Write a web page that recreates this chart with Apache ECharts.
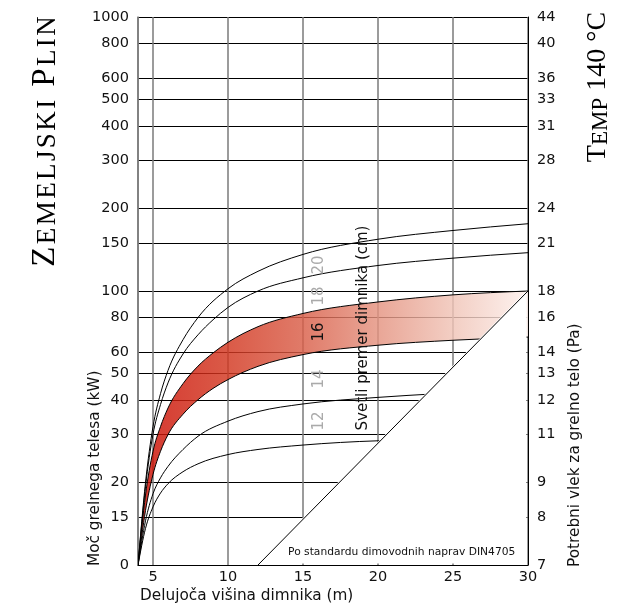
<!DOCTYPE html>
<html>
<head>
<meta charset="utf-8">
<script src="https://cdn.jsdelivr.net/npm/echarts@6/dist/echarts.min.js"></script>
<style>
html,body{margin:0;padding:0;background:#fff;}
#chart{width:626px;height:607px;}
</style>
</head>
<body>
<div id="chart"></div>
<script>
// ---- axis ticks ----
const xLabelValues = [5, 10, 15, 20, 25, 30];
const xGridValues = [4, 5, 10, 15, 20, 25, 30];
const yTickValues = [10, 15, 20, 30, 40, 50, 60, 80, 100, 150, 200, 300, 400, 500, 600, 800, 1000];
const leftTickLabels = ['0', '15', '20', '30', '40', '50', '60', '80', '100', '150', '200', '300', '400', '500', '600', '800', '1000'];
const rightTickLabels = ['7', '8', '9', '11', '12', '13', '14', '16', '18', '21', '24', '28', '31', '33', '36', '40', '44'];

// ---- curves (x = chimney height m, y = power kW) ----
const curve20X = [4, 4.5, 5, 5.5, 6, 7, 8, 10, 12, 15, 20, 25, 30];
const curve20Y = [10, 20, 32, 42.2, 51.3, 66.4, 80, 101.9, 118, 136, 154.5, 166.3, 176];

const curve18X = [4, 4.5, 5, 5.5, 6, 7, 8, 9, 10, 12, 15, 20, 25, 30];
const curve18Y = [10, 19.3, 30, 38.5, 46.2, 58.9, 69.2, 78.5, 87.1, 100, 111.7, 123.9, 131.8, 138];

const band16X = [4, 4.5, 5, 5.5, 6, 7, 8, 9, 10, 12, 15, 20, 25, 30];
const band16High = [10, 18, 26, 32, 37.4, 45.9, 53.2, 59.4, 65, 74.1, 82.8, 91.2, 96.8, 100];
const band16Low = [10, 15.8, 21.4, 26, 29.9, 35.5, 40.1, 44.1, 47.5, 53.1, 58.6, 63.4, 66.1, 67.9];

const curve14X = [4, 4.5, 5, 5.5, 6, 7, 8, 10, 12, 15, 20, 24];
const curve14Y = [10, 14.5, 18.2, 20.8, 22.9, 26.4, 29.5, 33.5, 36.3, 38.7, 40.9, 42.2];

const curve12X = [4, 4.5, 5, 5.5, 6, 7, 8, 10, 12, 15, 20, 21];
const curve12Y = [10, 13.6, 16.3, 18.3, 19.8, 21.9, 23.4, 25.3, 26.4, 27.4, 28.4, 28.5];

// limit line (DIN4705)
const limitX = [12, 30];
const limitY = [10, 100];

// curve labels (diameters, cm)
const diameterLabels = ['12', '14', '16', '18', '20'];

const pairs = (xs, ys) => xs.map((x, i) => [x, ys[i]]);
const tickIndex = v => yTickValues.findIndex(t => Math.abs(t - v) < t * 1e-6);

const FONT = '"DejaVu Sans", Verdana, sans-serif';
const SERIF = '"Liberation Serif", "Times New Roman", serif';
const RED = '#c3272d';

function smallCapsRich(str) {
  let out = '';
  for (const ch of str) {
    const isLower = ch !== ch.toUpperCase();
    out += '{' + (isLower ? 's' : 'b') + '|' + ch.toUpperCase() + '}';
  }
  return out;
}

// monotone cubic path segments through pixel points (points from api.coord)
function splineSegments(pts) {
  const n = pts.length;
  const s = [];
  for (let i = 0; i < n - 1; i++) s.push((pts[i + 1][1] - pts[i][1]) / (pts[i + 1][0] - pts[i][0]));
  const m = new Array(n);
  for (let i = 1; i < n - 1; i++) {
    const h0 = pts[i][0] - pts[i - 1][0], h1 = pts[i + 1][0] - pts[i][0];
    const p = (s[i - 1] * h1 + s[i] * h0) / (h0 + h1);
    m[i] = (Math.sign(s[i - 1]) + Math.sign(s[i])) * Math.min(Math.abs(s[i - 1]), Math.abs(s[i]), 0.5 * Math.abs(p)) || 0;
  }
  m[0] = (3 * s[0] - m[1]) / 2;
  m[n - 1] = (3 * s[n - 2] - m[n - 2]) / 2;
  let d = '';
  for (let i = 0; i < n - 1; i++) {
    const [x0, y0] = pts[i], [x1, y1] = pts[i + 1];
    const dx = (x1 - x0) / 3;
    d += ' C' + (x0 + dx) + ' ' + (y0 + dx * m[i]) + ' ' + (x1 - dx) + ' ' + (y1 - dx * m[i + 1]) + ' ' + x1 + ' ' + y1;
  }
  return d;
}

// a black curve drawn through the data with the same spline as the band edges
function curveSeries(name, xs, ys) {
  return {
    type: 'custom', name: name, z: 3, silent: true, clip: true,
    data: pairs(xs, ys),
    renderItem: (params, api) => {
      if (params.dataIndex !== 0) return null;
      const pts = xs.map((x, i) => api.coord([x, ys[i]]));
      return {
        type: 'path',
        shape: { pathData: 'M' + pts[0][0] + ' ' + pts[0][1] + splineSegments(pts) },
        style: { fill: null, stroke: '#000', lineWidth: 1 }
      };
    }
  };
}

const chart = echarts.init(document.getElementById('chart'));
chart.setOption({
  animation: false,
  backgroundColor: '#fff',
  grid: { left: 138, right: 98, top: 17, bottom: 42, containLabel: false, outerBoundsMode: 'none' },
  xAxis: {
    type: 'value', min: 4, max: 30,
    axisLine: { show: true, lineStyle: { color: '#000', width: 1 } },
    axisTick: { show: false, customValues: xGridValues },
    axisLabel: { customValues: xLabelValues, fontSize: 14.5, fontFamily: FONT, color: '#111', margin: 5 },
    splitLine: { show: true, lineStyle: { color: '#7a7a7a', width: 1.5 } }
  },
  yAxis: [
    {
      type: 'log', logBase: 10, min: 10, max: 1000, position: 'left',
      axisLine: { show: true, lineStyle: { color: '#7a7a7a', width: 1.5 } },
      axisTick: { show: false, customValues: yTickValues },
      axisLabel: {
        customValues: yTickValues, fontSize: 14.5, fontFamily: FONT, color: '#111', margin: 9,
        formatter: v => { const i = tickIndex(v); return i >= 0 ? leftTickLabels[i] : ''; }
      },
      splitLine: { show: true, lineStyle: { color: '#000', width: 1 } },
      minorSplitLine: { show: false }
    },
    {
      type: 'log', logBase: 10, min: 10, max: 1000, position: 'right',
      axisLine: { show: true, lineStyle: { color: '#000', width: 1 } },
      axisTick: { show: false, customValues: yTickValues },
      axisLabel: {
        customValues: yTickValues, fontSize: 14.5, fontFamily: FONT, color: '#111', margin: 9,
        formatter: v => { const i = tickIndex(v); return i >= 0 ? rightTickLabels[i] : ''; }
      },
      splitLine: { show: false }
    }
  ],
  series: [
    {
      type: 'custom', name: 'band16', z: 3, silent: true, clip: true,
      data: [[band16X[0], band16Low[0]]],
      renderItem: (params, api) => {
        const up = band16X.map((x, i) => api.coord([x, band16High[i]]));
        const lo = band16X.map((x, i) => api.coord([x, band16Low[i]]));
        const loRev = lo.slice().reverse();
        const upPath = 'M' + up[0][0] + ' ' + up[0][1] + splineSegments(up);
        const loPath = 'M' + lo[0][0] + ' ' + lo[0][1] + splineSegments(lo);
        const fillPath = upPath + ' L' + loRev[0][0] + ' ' + loRev[0][1] + splineSegments(loRev) + ' Z';
        return {
          type: 'group',
          children: [
            {
              type: 'path', shape: { pathData: fillPath },
              style: {
                opacity: 0.82,
                fill: new echarts.graphic.LinearGradient(0, 0, 1, 0, [
                  { offset: 0, color: '#cb0a00' },
                  { offset: 0.23, color: '#d2361f' },
                  { offset: 0.42, color: '#d95d47' },
                  { offset: 0.61, color: '#e4917e' },
                  { offset: 0.81, color: '#f0c4b7' },
                  { offset: 1, color: '#fdf0ec' }
                ])
              }
            },
            { type: 'path', shape: { pathData: upPath }, style: { fill: null, stroke: '#000', lineWidth: 1 } },
            { type: 'path', shape: { pathData: loPath }, style: { fill: null, stroke: '#000', lineWidth: 1 } }
          ]
        };
      }
    },
    curveSeries('d20', curve20X, curve20Y),
    curveSeries('d18', curve18X, curve18Y),
    curveSeries('d14', curve14X, curve14Y),
    curveSeries('d12', curve12X, curve12Y),
    {
      type: 'custom', name: 'limitArea', z: 5, silent: true,
      data: [[limitX[0], limitY[0]]],
      renderItem: (params, api) => {
        const a = api.coord([limitX[0], limitY[0]]);
        const b = api.coord([limitX[1], limitY[1]]);
        const c = api.coord([limitX[1], limitY[0]]);
        return {
          type: 'polygon',
          shape: { points: [[a[0], a[1] - 1.5], [b[0] - 1.5, b[1]], [c[0] - 1.5, c[1] - 1.5]] },
          style: { fill: '#fff' }
        };
      }
    },
    {
      type: 'line', name: 'limit', z: 6, symbol: 'none', silent: true,
      lineStyle: { color: '#000', width: 1 },
      data: pairs(limitX, limitY)
    }
  ],
  graphic: [
    {
      type: 'text', x: 45, y: 141.5, rotation: Math.PI / 2, z: 10,
      style: {
        text: smallCapsRich('Zemeljski Plin'), align: 'center', verticalAlign: 'middle',
        rich: {
          b: { fontSize: 33, fontFamily: SERIF, color: RED, padding: [0, 1.2, 0, 1.2], verticalAlign: 'bottom' },
          s: { fontSize: 27, fontFamily: SERIF, color: RED, padding: [0, 1.2, 0, 1.2], verticalAlign: 'bottom' }
        }
      }
    },
    {
      type: 'text', x: 598, y: 87, rotation: Math.PI / 2, z: 10,
      style: {
        text: smallCapsRich('Temp 140 °C'), align: 'center', verticalAlign: 'middle',
        rich: {
          b: { fontSize: 28, fontFamily: SERIF, color: RED, verticalAlign: 'bottom' },
          s: { fontSize: 23, fontFamily: SERIF, color: RED, verticalAlign: 'bottom' }
        }
      }
    },
    {
      type: 'text', x: 140, y: 596, z: 10,
      style: { text: 'Delujoča višina dimnika (m)', fontSize: 15.3, fontFamily: FONT, fill: '#111', align: 'left', verticalAlign: 'middle' }
    },
    {
      type: 'text', x: 95, y: 566, rotation: Math.PI / 2, z: 10,
      style: { text: 'Moč grelnega telesa (kW)', fontSize: 15.3, fontFamily: FONT, fill: '#111', align: 'left', verticalAlign: 'middle' }
    },
    {
      type: 'text', x: 575, y: 567, rotation: Math.PI / 2, z: 10,
      style: { text: 'Potrebni vlek za grelno telo (Pa)', fontSize: 15.3, fontFamily: FONT, fill: '#111', align: 'left', verticalAlign: 'middle' }
    },
    {
      type: 'text', x: 363, y: 328, rotation: Math.PI / 2, z: 10,
      style: { text: 'Svetli premer dimnika (cm)', fontSize: 15, fontFamily: FONT, fill: '#111', align: 'center', verticalAlign: 'middle' }
    },
    {
      type: 'text', x: 319, y: 421, rotation: Math.PI / 2, z: 10,
      style: { text: diameterLabels[0], fontSize: 15, fontFamily: FONT, fill: '#aaa', align: 'center', verticalAlign: 'middle' }
    },
    {
      type: 'text', x: 319, y: 379, rotation: Math.PI / 2, z: 10,
      style: { text: diameterLabels[1], fontSize: 15, fontFamily: FONT, fill: '#aaa', align: 'center', verticalAlign: 'middle' }
    },
    {
      type: 'text', x: 319, y: 332, rotation: Math.PI / 2, z: 10,
      style: { text: diameterLabels[2], fontSize: 15, fontFamily: FONT, fill: '#111', align: 'center', verticalAlign: 'middle' }
    },
    {
      type: 'text', x: 319, y: 296, rotation: Math.PI / 2, z: 10,
      style: { text: diameterLabels[3], fontSize: 15, fontFamily: FONT, fill: '#aaa', align: 'center', verticalAlign: 'middle' }
    },
    {
      type: 'text', x: 319, y: 265, rotation: Math.PI / 2, z: 10,
      style: { text: diameterLabels[4], fontSize: 15, fontFamily: FONT, fill: '#aaa', align: 'center', verticalAlign: 'middle' }
    },
    {
      type: 'text', x: 401.7, y: 552, z: 10,
      style: { text: 'Po standardu dimovodnih naprav DIN4705', fontSize: 10.7, fontFamily: FONT, fill: '#111', align: 'center', verticalAlign: 'middle' }
    }
  ]
});
</script>
</body>
</html>
